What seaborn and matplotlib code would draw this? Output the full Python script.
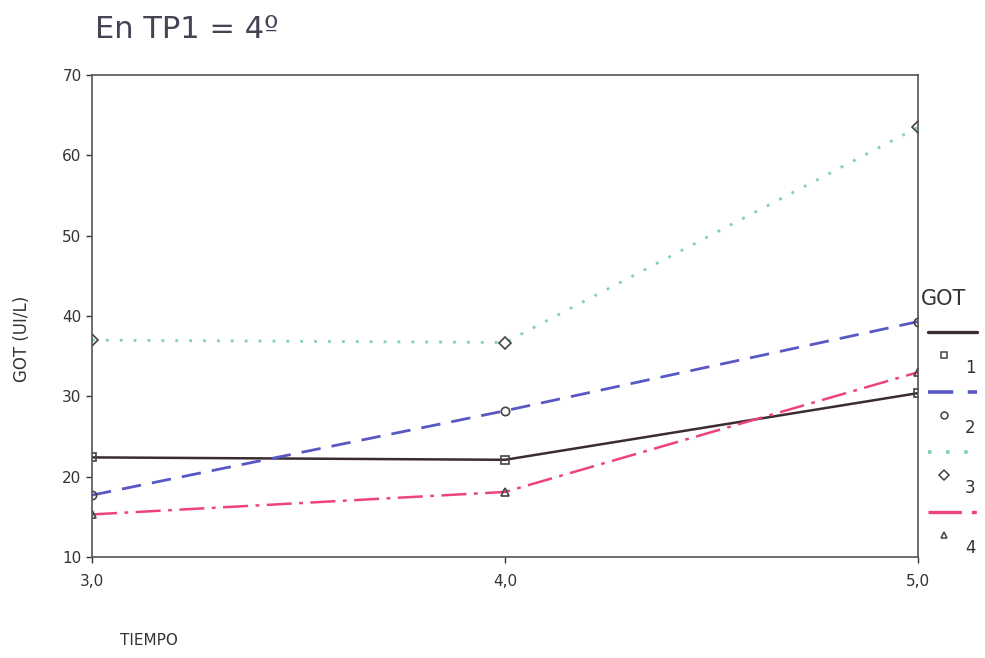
import numpy as np
import pandas as pd
import matplotlib
matplotlib.use("Agg")
import matplotlib.pyplot as plt
import seaborn as sns
from matplotlib.lines import Line2D

tiempo = [3.0, 4.0, 5.0]
got_1 = [22.4, 22.1, 30.4]
got_2 = [17.7, 28.2, 39.3]
got_3 = [37.0, 36.7, 63.5]
got_4 = [15.3, 18.1, 33.0]
labels = ["1", "2", "3", "4"]

sns.set_style("white")
plt.rcParams['font.family'] = ['DejaVu Sans']

fig = plt.figure(figsize=(9.85, 6.58), dpi=100)
ax = fig.add_axes([0.0934, 0.1535, 0.8386, 0.7325])

series = [got_1, got_2, got_3, got_4]
colors = ["#3b2c33", "#5858c4", "#7fd0b4", "#ec4478"]
styles = ["-", (0, (7, 4)), (0, (1, 4)), (0, (10, 3, 1.5, 3))]
widths = [1.8, 2.0, 2.0, 1.8]
markers = ["s", "o", "D", "^"]

for vals, c, ls, lw, m in zip(series, colors, styles, widths, markers):
    sns.lineplot(x=tiempo, y=vals, ax=ax, color=c, linestyle=ls, linewidth=lw)
    ax.plot(tiempo, vals, linestyle="none", marker=m, markersize=6,
            markerfacecolor="none", markeredgecolor="#444444", markeredgewidth=1.2)

ax.set_xlim(3.0, 5.0)
ax.set_ylim(10, 70)
ax.set_xticks(tiempo)
ax.set_xticklabels(["3,0", "4,0", "5,0"], fontsize=11, color="#333333")
ax.set_yticks(range(10, 71, 10))
ax.set_yticklabels([str(v) for v in range(10, 71, 10)], fontsize=11, color="#333333")
ax.tick_params(axis="both", direction="out", length=4, width=1, colors="#333333",
               left=True, bottom=True)
ax.tick_params(axis="x", pad=8)
for sp in ax.spines.values():
    sp.set_color("#555555")
    sp.set_linewidth(1.2)
ax.set_xlabel("")
ax.set_ylabel("")

fig.text(0.096, 0.955, "En TP1 = 4º", fontsize=22, color="#444455", va="center", ha="left")
fig.text(0.122, 0.027, "TIEMPO", fontsize=11, color="#333333", va="center", ha="left")
fig.text(0.022, 0.485, "GOT (UI/L)", fontsize=12, color="#333333", rotation=90,
         va="center", ha="center")

# legend on the right
fig.text(0.935, 0.545, "GOT", fontsize=15, color="#333333", va="center", ha="left")
for i, (c, ls, lw, m, lab) in enumerate(zip(colors, styles, widths, markers, labels)):
    y0 = 1 - (332 + i * 60) / 658
    fig.add_artist(Line2D([0.942, 0.992], [y0, y0], color=c, linestyle=ls,
                          linewidth=lw + 0.6, transform=fig.transFigure))
    ym = 1 - (355 + i * 60) / 658
    fig.add_artist(Line2D([0.958], [ym], marker=m, markersize=5, linestyle="none",
                          markerfacecolor="none", markeredgecolor="#444444",
                          markeredgewidth=1.1, transform=fig.transFigure))
    fig.text(0.985, 1 - (368 + i * 60) / 658, lab, fontsize=12, color="#333333",
             va="center", ha="center")

fig.savefig("out.png", dpi=100, facecolor="white")
